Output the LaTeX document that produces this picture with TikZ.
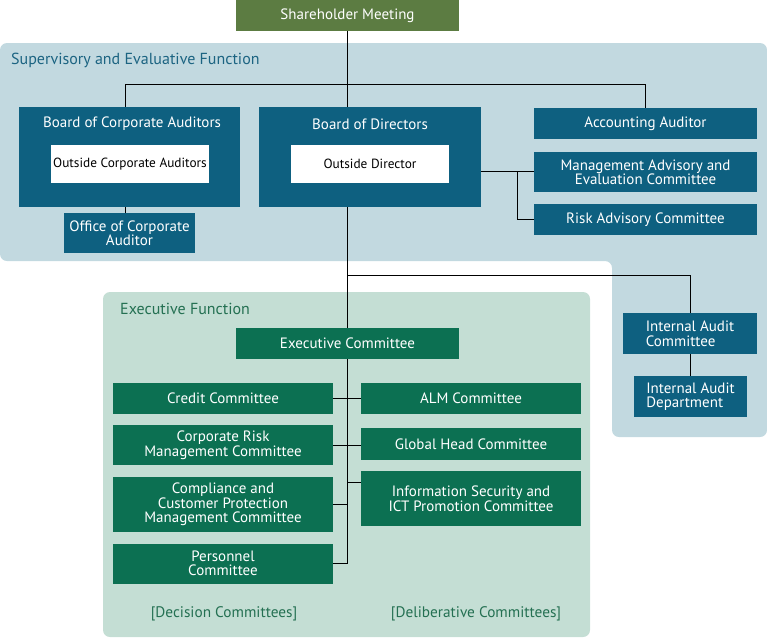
\documentclass[tikz,border=0pt]{standalone}
\usepackage{fontspec}
\setmainfont{PT Sans}
\usepackage{tikz}
\usetikzlibrary{positioning}

\definecolor{cShare}{RGB}{92,124,66}
\definecolor{cTeal}{RGB}{14,96,128}
\definecolor{cGreen}{RGB}{12,112,82}
\definecolor{cBluePanel}{RGB}{194,217,224}
\definecolor{cGreenPanel}{RGB}{196,222,212}
\definecolor{cTealText}{RGB}{28,100,130}
\definecolor{cGreenText}{RGB}{36,112,82}

\begin{document}
\begin{tikzpicture}[x=1pt, y=-1pt,
            box/.style={inner sep=0pt, text=white, align=center,
                font=\fontsize{15}{14.5}\selectfont},
            sharebox/.style={box, fill=cShare},
            tealbox/.style={box, fill=cTeal},
            greenbox/.style={box, fill=cGreen},
            whitebox/.style={box, fill=white, text=black,
                font=\fontsize{13.3}{14}\selectfont},
            title/.style={inner sep=0pt, text=white,
                font=\fontsize{15}{15}\selectfont},
            paneltitle/.style={inner sep=0pt, anchor=west,
                font=\fontsize{16}{16}\selectfont},
            grouplabel/.style={inner sep=0pt, text=cGreenText,
                font=\fontsize{15.3}{16}\selectfont},
            link/.style={draw=black, line width=1pt}
        ]
        \useasboundingbox (0,0) rectangle (767,638);

        % Panels
        \fill[cBluePanel, rounded corners=7] (0,43) -- (767,43) -- (767,437)
            -- (612,437) -- (612,261) -- (0,261) -- cycle;
        \fill[cGreenPanel, rounded corners=7] (103,292) rectangle (590,637);

        \node[paneltitle, text=cTealText] (supT) at (11,60) {Supervisory and Evaluative Function};
        \node[paneltitle, text=cGreenText] (exeT) at (120,309) {Executive Function};

        % Nodes (supervisory side)
        \node[sharebox, minimum width=223, minimum height=31] (share) at (347.5,15.5) {Shareholder Meeting};

        \node[tealbox, minimum width=221, minimum height=100] (bca) at (129.5,157) {};
        \node[title] (bcaT) at (132,124) {Board of Corporate Auditors};
        \node[whitebox, minimum width=158, minimum height=38] (bcaIn) at (130,164) {Outside Corporate Auditors};

        \node[tealbox, minimum width=222, minimum height=100] (bod) at (370,157) {};
        \node[title] (bodT) at (370,124) {Board of Directors};
        \node[whitebox, minimum width=158, minimum height=38] (bodIn) at (370,164) {Outside Director};

        \node[tealbox, minimum width=131, minimum height=40] (oca) at (129.5,233) {Office of Corporate\\Auditor};

        \node[tealbox, minimum width=223, minimum height=31] (acc) at (645.5,123.5) {Accounting Auditor};
        \node[tealbox, minimum width=223, minimum height=40] (maec) at (645.5,172) {Management Advisory and\\Evaluation Committee};
        \node[tealbox, minimum width=223, minimum height=31] (rac) at (645.5,219.5) {Risk Advisory Committee};

        \node[tealbox, align=left, minimum width=134, minimum height=41] (iac) at (690,333.5) {Internal Audit\\Committee};
        \node[tealbox, align=left, minimum width=113, minimum height=41] (iad) at (690.5,396.5) {Internal Audit\\Department};

        % Nodes (executive side)
        \node[greenbox, minimum width=223, minimum height=31] (exe) at (347.5,343.5) {Executive Committee};

        \node[greenbox, minimum width=220, minimum height=31] (credit) at (223,398.5) {Credit Committee};
        \node[greenbox, minimum width=220, minimum height=40] (crm) at (223,445) {Corporate Risk\\Management Committee};
        \node[greenbox, minimum width=220, minimum height=55] (comp) at (223,504.5) {Compliance and\\Customer Protection\\Management Committee};
        \node[greenbox, minimum width=220, minimum height=40] (pers) at (223,563.5) {Personnel\\Committee};

        \node[greenbox, minimum width=220, minimum height=31] (alm) at (471,398.5) {ALM Committee};
        \node[greenbox, minimum width=220, minimum height=32] (ghc) at (471,444) {Global Head Committee};
        \node[greenbox, minimum width=220, minimum height=55] (info) at (471,498.5) {Information Security and\\ICT Promotion Committee};

        \node[grouplabel] (decT) at (224,614) {[Decision Committees]};
        \node[grouplabel] (delT) at (476,614) {[Deliberative Committees]};

        % Edges
        \coordinate (jA) at (125,84);
        \coordinate (jR) at (517,171);
        \coordinate (jI) at (347,275);

        \draw[link] (share.south) -- (share.south |- bod.north);
        \draw[link] (share.south |- bod.south) -- (exe.north);

        \draw[link] (jA) -- (jA -| acc.north) -- (acc.north);
        \draw[link] (jA) -- (jA |- bca.north);
        \draw[link] (jA |- bca.south) -- (jA |- oca.north);

        \draw[link] (jR -| bod.east) -- (jR -| maec.west);
        \draw[link] (jR) |- (rac.west);

        \draw[link] (jI) -| (iac.north);
        \draw[link] (iac.south) -- (iac.south |- iad.north);

        \draw[link] (exe.south) -- (exe.south |- pers.east) -- (pers.east);
        \draw[link] (credit) -- (alm);
        \draw[link] (crm.east) -- (crm.east -| ghc.west);
        \draw[link] (comp.east) -- (comp.east -| exe.south);
        \draw[link] ([yshift=16pt]info.west) -- ([yshift=16pt]info.west -| exe.south);

    \end{tikzpicture}
\end{document}
